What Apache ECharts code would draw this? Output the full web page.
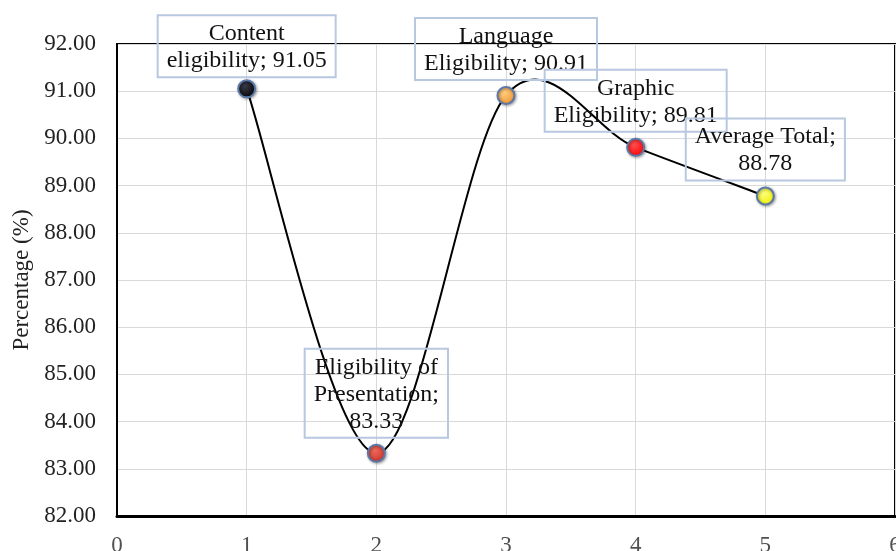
<!DOCTYPE html>
<html>
<head>
<meta charset="utf-8">
<script src="https://cdn.jsdelivr.net/npm/echarts@6/dist/echarts.min.js"></script>
<style>html,body{margin:0;padding:0;background:#fff;}#c{width:896px;height:551px;}</style>
</head>
<body>
<div id="c"></div>
<script>
const xValues = [1, 2, 3, 4, 5];
const yValues = [91.05, 83.33, 90.91, 89.81, 88.78];
const labelTexts = [
  'Content\neligibility; 91.05',
  'Eligibility of\nPresentation;\n83.33',
  'Language\nEligibility; 90.91',
  'Graphic\nEligibility; 89.81',
  'Average Total;\n88.78'
];
const markerColors = [
  ['#3a3a4a', '#000000'],
  ['#f06a5a', '#c8302a'],
  ['#ffd080', '#f09030'],
  ['#ff5050', '#ff0000'],
  ['#ffff80', '#f0f000']
];
const labelDistances = [2, 6, 6, 6, 6];
const yTicks = { min: 82, max: 92, interval: 1 };
const xTicks = { min: 0, max: 6, interval: 1 };

const FONT = '"Liberation Serif", "Times New Roman", serif';

const data = xValues.map((x, i) => ({
  value: [x, yValues[i]],
  itemStyle: {
    color: {
      type: 'radial', x: 0.4, y: 0.35, r: 0.7,
      colorStops: [{ offset: 0, color: markerColors[i][0] }, { offset: 1, color: markerColors[i][1] }]
    }
  },
  label: {
    distance: labelDistances[i],
    formatter: labelTexts[i]
  }
}));

// Smoothed curve (Catmull-Rom style, like spreadsheet smoothing) through the data points,
// positioned with the chart's own axis scales via api.coord.
function renderCurve(params, api) {
  const pts = xValues.map((x, i) => api.coord([x, yValues[i]]));
  const n = pts.length;
  let d = 'M' + pts[0][0] + ',' + pts[0][1];
  for (let i = 0; i < n - 1; i++) {
    const p0 = pts[Math.max(i - 1, 0)];
    const p1 = pts[i];
    const p2 = pts[i + 1];
    const p3 = pts[Math.min(i + 2, n - 1)];
    const c1x = p1[0] + (p2[0] - p0[0]) / 6;
    const c1y = p1[1] + (p2[1] - p0[1]) / 6;
    const c2x = p2[0] - (p3[0] - p1[0]) / 6;
    const c2y = p2[1] - (p3[1] - p1[1]) / 6;
    d += ' C' + c1x + ',' + c1y + ' ' + c2x + ',' + c2y + ' ' + p2[0] + ',' + p2[1];
  }
  return {
    type: 'path',
    shape: { pathData: d },
    style: { fill: 'none', stroke: '#000', lineWidth: 2 }
  };
}

const chart = echarts.init(document.getElementById('c'), null, { renderer: 'canvas' });
chart.setOption({
  animation: false,
  backgroundColor: '#ffffff',
  grid: {
    left: 117, right: 1, top: 44, bottom: 35,
    containLabel: false,
    outerBoundsMode: 'none',
    show: true, borderColor: '#000', borderWidth: 2, backgroundColor: 'transparent'
  },
  xAxis: {
    type: 'value',
    min: xTicks.min, max: xTicks.max, interval: xTicks.interval,
    axisLine: { show: true, onZero: false, lineStyle: { color: '#000', width: 3 } },
    axisTick: { show: false },
    splitLine: { show: true, lineStyle: { color: '#d9d9d9', width: 1 } },
    axisLabel: { fontFamily: FONT, fontSize: 23, color: '#505050', margin: 18 }
  },
  yAxis: {
    type: 'value',
    min: yTicks.min, max: yTicks.max, interval: yTicks.interval,
    name: 'Percentage (%)',
    nameLocation: 'middle',
    nameRotate: 90,
    nameGap: 83,
    nameTextStyle: { fontFamily: FONT, fontSize: 23, color: '#222' },
    axisLine: { show: true, lineStyle: { color: '#000', width: 2 } },
    axisTick: { show: false },
    splitLine: { show: true, lineStyle: { color: '#d9d9d9', width: 1 } },
    axisLabel: {
      fontFamily: FONT, fontSize: 23, color: '#222', margin: 21,
      formatter: v => v.toFixed(2)
    }
  },
  series: [{
    type: 'custom',
    renderItem: renderCurve,
    data: [[xValues[0], yValues[0]]],
    clip: false,
    silent: true,
    z: 2
  }, {
    type: 'line',
    data: data,
    symbol: 'circle',
    symbolSize: 17,
    lineStyle: { width: 0, opacity: 0 },
    itemStyle: {
      borderColor: '#5a78a8', borderWidth: 2,
      shadowColor: 'rgba(0,0,0,0.35)', shadowBlur: 3, shadowOffsetX: 1, shadowOffsetY: 1
    },
    label: {
      show: true,
      position: 'top',
      fontFamily: FONT,
      fontSize: 24,
      lineHeight: 27,
      color: '#111',
      align: 'center',
      borderColor: '#b8c8e0',
      borderWidth: 1,
      padding: [5, 9, 3, 9],
      backgroundColor: 'transparent'
    },
    z: 3
  }]
});
</script>
</body>
</html>
